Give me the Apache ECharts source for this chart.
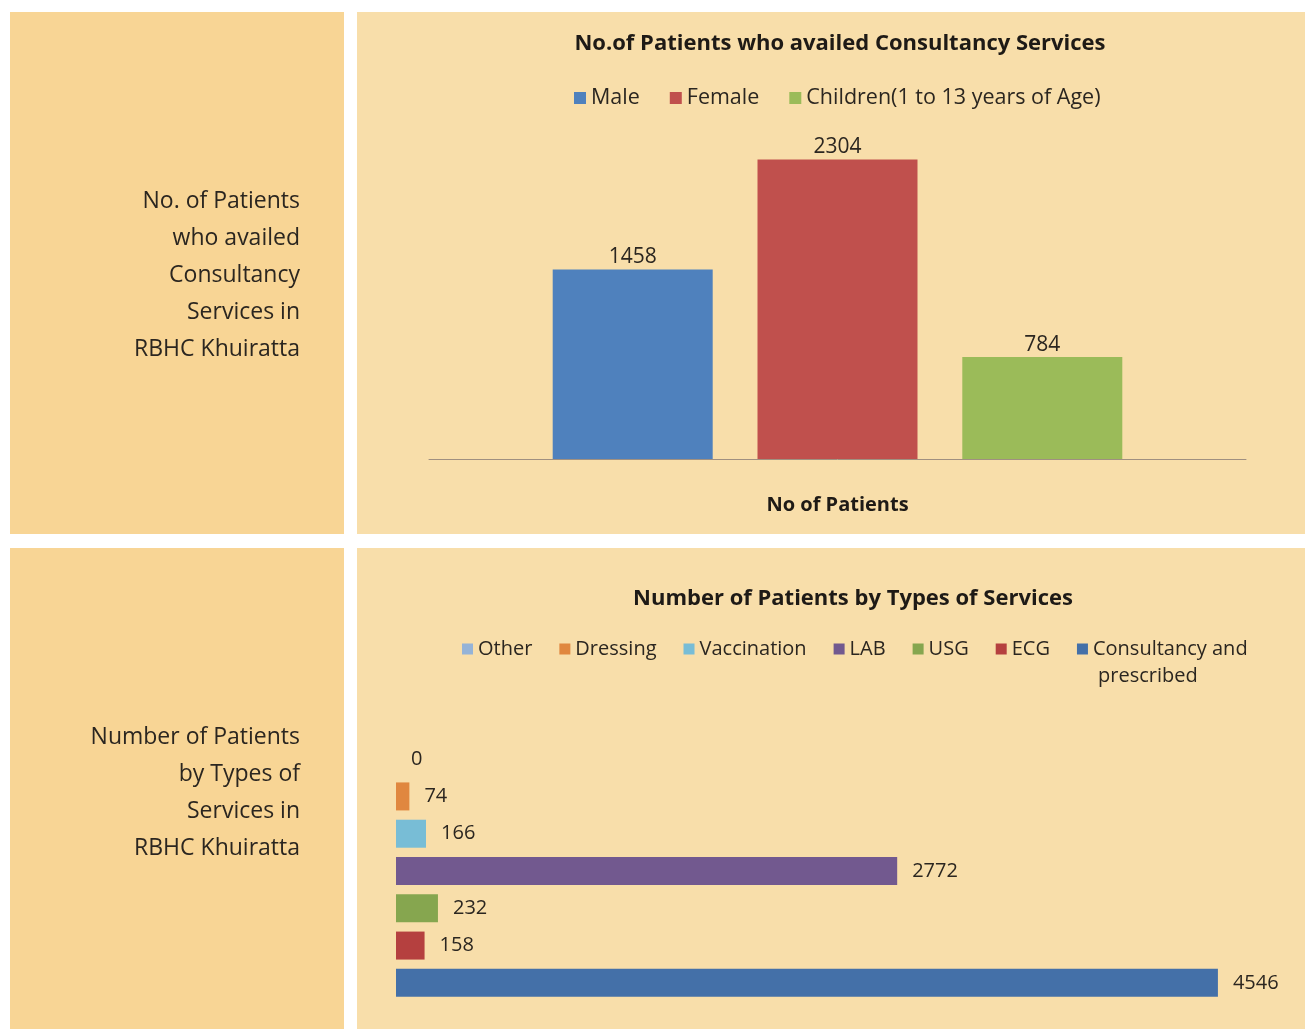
<!DOCTYPE html>
<html>
<head>
<meta charset="utf-8">
<script src="https://cdn.jsdelivr.net/npm/echarts@6/dist/echarts.min.js"></script>
<style>
html,body{margin:0;padding:0;background:#ffffff;}
#c{width:1305px;height:1029px;}
</style>
</head>
<body>
<div id="c"></div>
<script>
// ---- Data ----
const topTitle = 'No.of Patients who availed Consultancy Services';
const topCategory = ['No of Patients'];
const topSeriesNames = ['Male', 'Female', 'Children(1 to 13 years of Age)'];
const topValues = [1458, 2304, 784];
const topColors = ['#4f81bd', '#c0504d', '#9bbb59'];

const bottomTitle = 'Number of Patients by Types of Services';
const serviceNames = ['Other', 'Dressing', 'Vaccination', 'LAB', 'USG', 'ECG', 'Consultancy and prescribed'];
const serviceLegendLines = { 'Consultancy and prescribed': ['Consultancy and', 'prescribed'] };
const serviceValues = [0, 74, 166, 2772, 232, 158, 4546];
const serviceColors = ['#95b3d7', '#e0873f', '#78bdd6', '#72598f', '#86a64f', '#b5403f', '#4470a8'];

const leftTextTop = ['No. of Patients', 'who availed', 'Consultancy', 'Services in', 'RBHC Khuiratta'];
const leftTextBottom = ['Number of Patients', 'by Types of', 'Services in', 'RBHC Khuiratta'];

const FONT = 'Open Sans';
const chart = echarts.init(document.getElementById('c'));

const leftPanel = '#f8d595';
const rightPanel = '#f8deaa';

function leftLines(lines, y0) {
  return lines.map((t, i) => ({
    type: 'text', right: 1305 - 300, top: y0 + i * 37 - 13,
    style: { text: t, fill: '#2b2620', font: '23px "' + FONT + '"', textAlign: 'right' }
  }));
}

const graphics = [
  { type: 'rect', shape: { x: 10, y: 12, width: 334, height: 522 }, style: { fill: leftPanel }, z: -10 },
  { type: 'rect', shape: { x: 357, y: 12, width: 948, height: 522 }, style: { fill: rightPanel }, z: -10 },
  { type: 'rect', shape: { x: 10, y: 548, width: 334, height: 481 }, style: { fill: leftPanel }, z: -10 },
  { type: 'rect', shape: { x: 357, y: 548, width: 948, height: 481 }, style: { fill: rightPanel }, z: -10 },
  { type: 'text', left: 1098, top: 666,
    style: { text: serviceLegendLines['Consultancy and prescribed'][1], fill: '#2b2620', font: '20px "' + FONT + '"' } }
].concat(leftLines(leftTextTop, 203)).concat(leftLines(leftTextBottom, 739));

const topSeries = topSeriesNames.map((n, i) => ({
  name: n, type: 'bar', xAxisIndex: 0, yAxisIndex: 0,
  data: [topValues[i]],
  barWidth: 160, barGap: '28%',
  itemStyle: { color: topColors[i] },
  label: { show: true, position: 'top', distance: 2, color: '#2b2620', fontSize: 21, fontFamily: FONT }
}));

const bottomSeries = serviceNames.map((n, i) => ({
  name: n, type: 'bar', xAxisIndex: 1, yAxisIndex: 1, stack: 'svc',
  data: serviceNames.map((c, j) => j === i ? serviceValues[i] : '-'),
  barWidth: 28,
  itemStyle: { color: serviceColors[i] },
  label: { show: true, position: 'right', distance: 15, color: '#2b2620', fontSize: 20, fontFamily: FONT }
}));

chart.setOption({
  animation: false,
  textStyle: { fontFamily: FONT },
  graphic: graphics,
  title: [
    { text: topTitle, left: 835, top: 28, textAlign: 'center',
      textStyle: { fontSize: 22, fontWeight: 'bold', color: '#1e1a16', fontFamily: FONT } },
    { text: bottomTitle, left: 848, top: 583, textAlign: 'center',
      textStyle: { fontSize: 22, fontWeight: 'bold', color: '#1e1a16', fontFamily: FONT } }
  ],
  legend: [
    { data: topSeriesNames, left: 569, top: 82, itemWidth: 12, itemHeight: 12, itemGap: 30,
      icon: 'rect', textStyle: { fontSize: 21.5, color: '#2b2620', fontFamily: FONT } },
    { data: serviceNames, left: 457, top: 634, itemWidth: 11, itemHeight: 11, itemGap: 27,
      icon: 'rect', textStyle: { fontSize: 20, color: '#2b2620', fontFamily: FONT },
      formatter: n => serviceLegendLines[n] ? serviceLegendLines[n][0] : n }
  ],
  grid: [
    { left: 429, right: 1305 - 1246, top: 134, height: 325 },
    { left: 396, right: 5, top: 740.5, height: 261 }
  ],
  xAxis: [
    { type: 'category', gridIndex: 0, data: topCategory,
      axisLine: { lineStyle: { color: '#a09080', width: 1 } }, axisTick: { show: false },
      axisLabel: { margin: 36, fontSize: 20, fontWeight: 'bold', color: '#1e1a16', fontFamily: FONT } },
    { type: 'value', gridIndex: 1, min: 0, max: 5000, show: false, splitLine: { show: false } }
  ],
  yAxis: [
    { type: 'value', gridIndex: 0, min: 0, max: 2500, show: false, splitLine: { show: false } },
    { type: 'category', gridIndex: 1, data: serviceNames, inverse: true, show: false }
  ],
  series: topSeries.concat(bottomSeries)
});
</script>
</body>
</html>
